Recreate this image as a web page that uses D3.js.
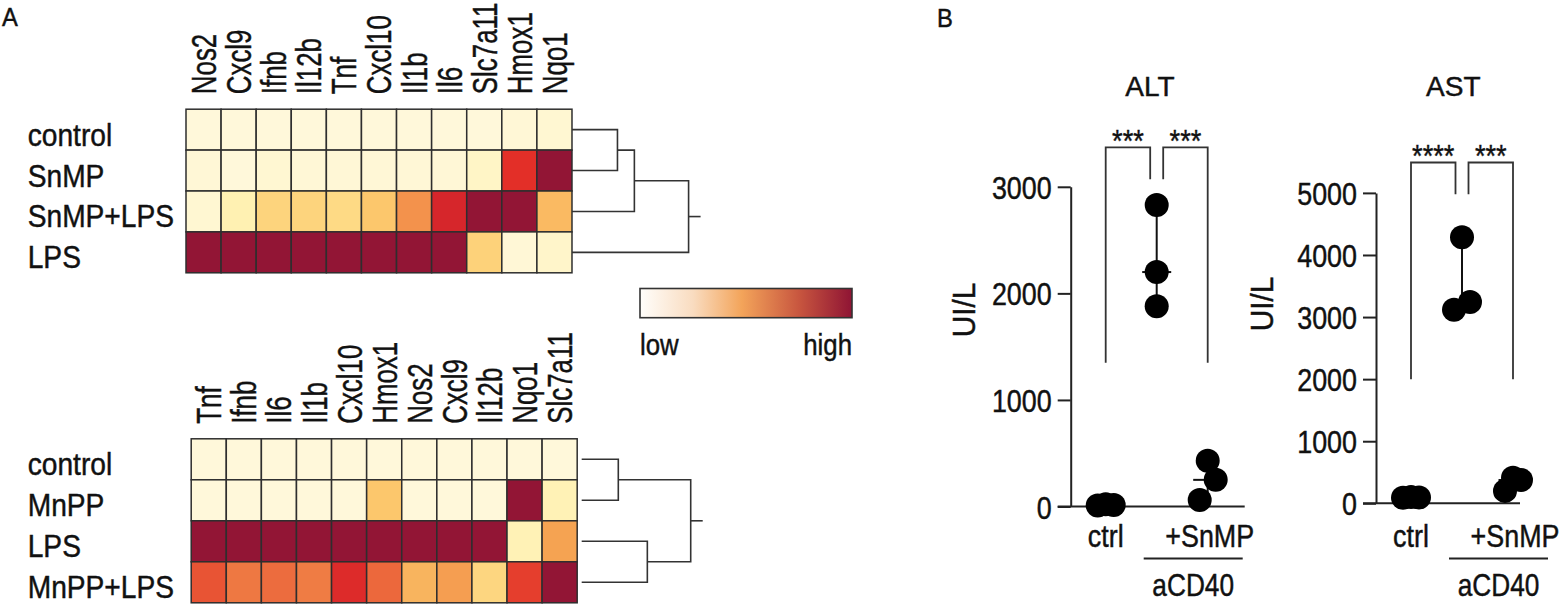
<!DOCTYPE html>
<html>
<head>
<meta charset="utf-8">
<script src="https://cdn.jsdelivr.net/npm/d3@7"></script>
<style>
  body { margin: 0; background: #fff; }
  svg { display: block; font-family: "Liberation Sans", Arial, sans-serif; }
  svg text { stroke: #111; stroke-width: 0.45px; }
</style>
</head>
<body>
<script>
// ---- data: panel A, heatmaps (relative expression, 0 = low, 1 = high) ----
var genesSn = ["Nos2", "Cxcl9", "Ifnb", "Il12b", "Tnf", "Cxcl10", "Il1b", "Il6", "Slc7a11", "Hmox1", "Nqo1"];
var groupsSn = ["control", "SnMP", "SnMP+LPS", "LPS"];
var exprSn = [
  [0, 0, 0, 0, 0, 0, 0, 0, 0, 0.01, 0.02],
  [0.01, 0, 0.02, 0.01, 0.01, 0.01, 0.01, 0.01, 0.05, 0.7, 1],
  [0.02, 0.1, 0.24, 0.24, 0.21, 0.3, 0.45, 0.78, 1, 1, 0.34],
  [1, 1, 1, 1, 1, 1, 1, 1, 0.25, 0.01, 0.04]
];
// row clustering, [childA, childB, height]; leaves 0..3, merged nodes 4..
var treeSn = [[0, 1, 0.39], [4, 2, 0.535], [5, 3, 1.0]];

var genesMn = ["Tnf", "Ifnb", "Il6", "Il1b", "Cxcl10", "Hmox1", "Nos2", "Cxcl9", "Il12b", "Nqo1", "Slc7a11"];
var groupsMn = ["control", "MnPP", "LPS", "MnPP+LPS"];
var exprMn = [
  [0, 0, 0, 0, 0, 0, 0, 0, 0, 0, 0],
  [0, 0, 0, 0, 0, 0.3, 0, 0, 0, 1, 0.09],
  [1, 1, 1, 1, 1, 1, 1, 1, 1, 0.09, 0.41],
  [0.6, 0.51, 0.54, 0.5, 0.74, 0.55, 0.36, 0.42, 0.23, 0.66, 1]
];
var treeMn = [[0, 1, 0.314], [2, 3, 0.563], [4, 5, 0.935]];

// ---- data: panel B, serum enzymes (UI/L) ----
var xLabels = ["ctrl", "", "+SnMP"];
var altCtrl = [20, 15, 10];
var altCD40 = [2830, 2200, 1880];
var altSnMP = [430, 250, 60];
var astCtrl = [100, 95, 90];
var astCD40 = [4287, 3243, 3116];
var astSnMP = [410, 375, 200];
var altTicks = [0, 1000, 2000, 3000];
var astTicks = [0, 1000, 2000, 3000, 4000, 5000];
// comparisons [groupA, groupB, label]; bracket levels [top, short leg end, long leg end]
var altSig = [[0, 1, "***"], [1, 2, "***"]];
var altSigLevels = [3370, 3070, 1350];
var astSig = [[0, 1, "****"], [1, 2, "***"]];
var astSigLevels = [5490, 4980, 2000];

var width = 1565, height = 604;

var svg = d3.select("body").append("svg")
  .attr("width", width)
  .attr("height", height);

// cell palette (value -> colour)
var cellColor = d3.scaleLinear()
  .domain([0, 0.1, 0.2, 0.3, 0.4, 0.5, 0.6, 0.7, 0.8, 1])
  .range(["#fff8da", "#fff1b2", "#fedc88", "#fcc76c", "#f6a754", "#ef7c44", "#e85434", "#e32f28", "#d3242c", "#921535"])
  .clamp(true);

var legendStops = [[0, "#fffefb"], [0.25, "#f9dcc0"], [0.48, "#f3a45a"], [0.75, "#c8563f"], [1, "#8f1434"]];

// text helper: condensed look via horizontal scale
function txt(g, s, x, y, size, sx, anchor, rot) {
  var t = g.append("text")
    .attr("transform", "translate(" + x + "," + y + ")" + (rot ? " rotate(" + rot + ")" : "") + " scale(" + sx + ",1)")
    .attr("text-anchor", anchor || "start")
    .style("font-size", size + "px")
    .attr("fill", "#111")
    .text(s);
  return t;
}

// ---- heatmap with row dendrogram ----
function heatmap(genes, groups, expr, tree, cfg) {
  var g = svg.append("g");
  var x = d3.scaleBand().domain(d3.range(genes.length)).range([cfg.x, cfg.x + cfg.cw * genes.length]);
  var y = d3.scaleBand().domain(d3.range(groups.length)).range([cfg.y, cfg.y + cfg.ch * groups.length]);

  var cells = [];
  expr.forEach(function(row, r) {
    row.forEach(function(v, c) { cells.push({ r: r, c: c, v: v }); });
  });

  g.selectAll("rect.cell")
    .data(cells)
    .enter().append("rect")
    .attr("class", "cell")
    .attr("x", function(d) { return x(d.c); })
    .attr("y", function(d) { return y(d.r); })
    .attr("width", x.bandwidth())
    .attr("height", y.bandwidth())
    .attr("fill", function(d) { return cellColor(d.v); })
    .attr("stroke", "#2e2e2e")
    .attr("stroke-width", 1.5);

  // column labels (rotated)
  genes.forEach(function(n, i) {
    txt(g, n, x(i) + x.bandwidth() / 2 + 12.5, cfg.y - 15, 35, 0.74, "start", -90);
  });

  // row labels
  groups.forEach(function(n, i) {
    txt(g, n, 27.7, y(i) + y.bandwidth() / 2 + 16, 32, 0.88, "start");
  });

  // dendrogram
  var h = d3.scaleLinear().domain([0, 1]).range([0, 116.6]);
  var x0 = cfg.x + cfg.cw * genes.length + cfg.gap;
  var nodes = groups.map(function(d, i) { return { x: x0, y: y(i) + y.bandwidth() / 2 }; });
  tree.forEach(function(m) {
    var a = nodes[m[0]], b = nodes[m[1]], hx = x0 + h(m[2]);
    g.append("path")
      .attr("d", "M" + a.x + "," + a.y + "H" + hx + "V" + b.y + "H" + b.x)
      .attr("fill", "none")
      .attr("stroke", "#333")
      .attr("stroke-width", 1.6);
    nodes.push({ x: hx, y: (a.y + b.y) / 2 });
  });
  var root = nodes[nodes.length - 1];
  g.append("line")
    .attr("x1", root.x).attr("x2", root.x + 12)
    .attr("y1", root.y).attr("y2", root.y)
    .attr("stroke", "#333").attr("stroke-width", 1.6);
}

heatmap(genesSn, groupsSn, exprSn, treeSn, { x: 186, y: 109.2, cw: 35.09, ch: 40.9, gap: 0 });
heatmap(genesMn, groupsMn, exprMn, treeMn, { x: 191.2, y: 438.8, cw: 35.09, ch: 41, gap: 4.5 });

// colour key
var grad = svg.append("defs").append("linearGradient").attr("id", "key");
grad.selectAll("stop").data(legendStops).enter().append("stop")
  .attr("offset", function(d) { return d[0] * 100 + "%"; })
  .attr("stop-color", function(d) { return d[1]; });
svg.append("rect")
  .attr("x", 640).attr("y", 288.5).attr("width", 212).attr("height", 29.2)
  .attr("fill", "url(#key)").attr("stroke", "#333").attr("stroke-width", 1.6);
txt(svg, "low", 640, 355, 30, 0.86, "start");
txt(svg, "high", 852, 355, 30, 0.86, "end");

// panel letters
txt(svg, "A", 2, 26, 25, 0.95, "start");
txt(svg, "B", 937, 27, 25, 0.95, "start");

// ---- scatter panels ----
function jitter(vals, y, r, a) {
  var order = d3.range(vals.length).sort(function(i, j) { return vals[j] - vals[i]; });
  var off = vals.map(function() { return 0; });
  var clusters = [], cur = [order[0]];
  for (var k = 1; k < order.length; k++) {
    if (Math.abs(y(vals[order[k]]) - y(vals[order[k - 1]])) < 2 * r) cur.push(order[k]);
    else { clusters.push(cur); cur = [order[k]]; }
  }
  clusters.push(cur);
  clusters.forEach(function(c) {
    if (c.length < 2) return;
    var pat = c.length % 2 ? [0] : [];
    for (var s = 1; pat.length < c.length; s++) { pat.push(s * a); pat.push(-s * a); }
    c.forEach(function(idx, k) { off[idx] = pat[k]; });
  });
  return off;
}

function scatter(series, ticks, sig, levels, cfg) {
  var g = svg.append("g");
  var y = d3.scaleLinear().domain([0, ticks[ticks.length - 1]]).range([cfg.y0, cfg.y1]);
  var gx = d3.scaleLinear().domain([0, 2]).range([cfg.ax + 35, cfg.ax + 137]);
  var r = 12;

  // y axis
  var axis = g.append("g")
    .attr("transform", "translate(" + cfg.ax + ",0)")
    .call(d3.axisLeft(y).tickValues(ticks).tickSize(13).tickSizeOuter(0).tickFormat(d3.format("d")));
  axis.select(".domain").attr("stroke", "#222").attr("stroke-width", 2);
  axis.selectAll(".tick line").attr("stroke", "#222").attr("stroke-width", 2);
  axis.selectAll(".tick text")
    .attr("x", 0).attr("dy", null)
    .attr("transform", "translate(-19,11.5) scale(0.84,1)")
    .attr("fill", "#111")
    .style("font-size", "32px")
    .style("font-family", "Liberation Sans, Arial, sans-serif");

  // x axis line
  g.append("line")
    .attr("x1", cfg.ax - 13).attr("x2", gx(2) + cfg.xExt)
    .attr("y1", cfg.y0).attr("y2", cfg.y0)
    .attr("stroke", "#222").attr("stroke-width", 2);

  // title and unit
  txt(g, cfg.title, cfg.titleX, 95.8, 28, 1, "middle");
  txt(g, "UI/L", cfg.unitX, cfg.unitY, 32, 0.93, "middle", -90);

  // group labels
  xLabels.forEach(function(l, i) {
    if (l) txt(g, l, gx(i) + (i === 2 ? 2 : 0), 546.5, 32, 0.84, "middle");
  });
  var lx1 = gx(1) - 13, lx2 = gx(2) + 35;
  g.append("line").attr("x1", lx1).attr("x2", lx2).attr("y1", 558.5).attr("y2", 558.5)
    .attr("stroke", "#222").attr("stroke-width", 1.8);
  txt(g, "aCD40", (lx1 + lx2) / 2, 596, 32, 0.82, "middle");

  // median + range, then points
  series.forEach(function(vals, i) {
    var cx = gx(i);
    var ext = d3.extent(vals), med = d3.median(vals);
    g.append("line").attr("x1", cx).attr("x2", cx).attr("y1", y(ext[0])).attr("y2", y(ext[1]))
      .attr("stroke", "#111").attr("stroke-width", 2);
    g.append("line").attr("x1", cx - 14.5).attr("x2", cx + 14.5).attr("y1", y(med)).attr("y2", y(med))
      .attr("stroke", "#111").attr("stroke-width", 2);
    var off = jitter(vals, y, r, 8);
    g.selectAll(null).data(vals).enter().append("circle")
      .attr("cx", function(d, k) { return cx + off[k]; })
      .attr("cy", function(d) { return y(d); })
      .attr("r", r)
      .attr("fill", "#000");
  });

  // significance brackets
  var shared = {};
  sig.forEach(function(s) { shared[s[0]] = (shared[s[0]] || 0) + 1; shared[s[1]] = (shared[s[1]] || 0) + 1; });
  sig.forEach(function(s) {
    var inA = shared[s[0]] > 1, inB = shared[s[1]] > 1;
    var xl = gx(s[0]) + (inA ? 6.5 : 0), xr = gx(s[1]) - (inB ? 6.5 : 0);
    var yl = y(inA ? levels[1] : levels[2]), yr = y(inB ? levels[1] : levels[2]), yt = y(levels[0]);
    g.append("path")
      .attr("d", "M" + xl + "," + yl + "V" + yt + "H" + xr + "V" + yr)
      .attr("fill", "none").attr("stroke", "#333").attr("stroke-width", 1.8);
    txt(g, s[2], (xl + xr) / 2, yt + 5, 32, 0.85, "middle");
  });
}

scatter([altCtrl, altCD40, altSnMP], altTicks, altSig, altSigLevels,
  { ax: 1070.7, y0: 506.5, y1: 186.8, title: "ALT", titleX: 1150, unitX: 975, unitY: 310, xExt: 37 });
scatter([astCtrl, astCD40, astSnMP], astTicks, astSig, astSigLevels,
  { ax: 1376, y0: 503.3, y1: 192.9, title: "AST", titleX: 1453.3, unitX: 1273.3, unitY: 304, xExt: 7 });
</script>
</body>
</html>
